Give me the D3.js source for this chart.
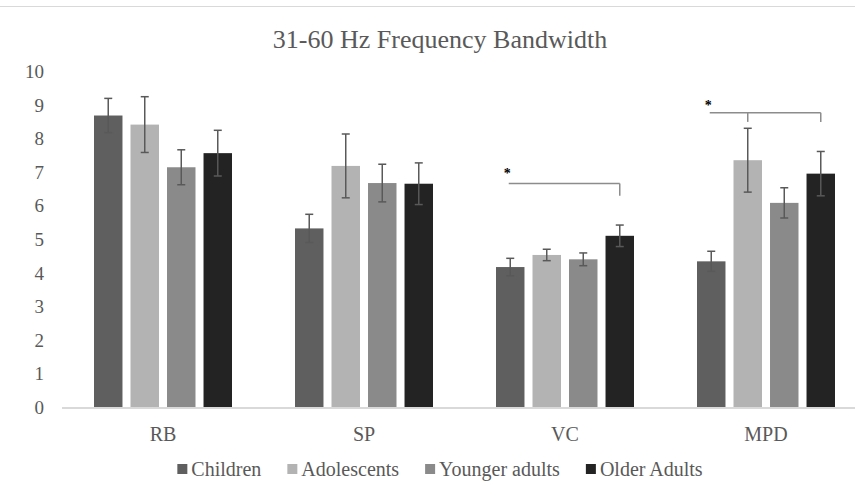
<!DOCTYPE html>
<meta charset="utf-8">
<style>
body { margin: 0; background: #fff; }
svg text { fill: #595959; }
</style>
<svg width="855" height="485"></svg>
<script src="https://cdn.jsdelivr.net/npm/d3@7"></script>
<script>

var categories = ["RB", "SP", "VC", "MPD"];
var series = ["Children", "Adolescents", "Younger adults", "Older Adults"];
var children = [8.69, 5.33, 4.18, 4.35];
var adolescents = [8.42, 7.19, 4.54, 7.36];
var youngerAdults = [7.15, 6.68, 4.41, 6.09];
var olderAdults = [7.57, 6.66, 5.11, 6.96];
var childrenErr = [0.51, 0.42, 0.26, 0.30];
var adolescentsErr = [0.83, 0.95, 0.17, 0.95];
var youngerAdultsErr = [0.52, 0.56, 0.19, 0.45];
var olderAdultsErr = [0.68, 0.62, 0.32, 0.66];
var yTicks = [0, 1, 2, 3, 4, 5, 6, 7, 8, 9, 10];
// significance brackets: line level, drop end, star level
var brackets = [
  {category: "VC", from: "Children", drops: ["Older Adults"], level: 6.67, dropTo: 6.30, star: 7.05},
  {category: "MPD", from: "Children", drops: ["Adolescents", "Older Adults"], level: 8.77, dropTo: 8.50, star: 9.05}
];

var colors = ["#5f5f5f", "#b3b3b3", "#8a8a8a", "#232323"];
var values = [children, adolescents, youngerAdults, olderAdults];
var errors = [childrenErr, adolescentsErr, youngerAdultsErr, olderAdultsErr];
var serif = "'Liberation Serif', 'Times New Roman', serif";

var svg = d3.select("svg");
var chartCenter = 440;

var x0 = d3.scaleBand().domain(categories).range([62.5, 866.5]);
var x1 = d3.scaleBand().domain(series).range([31.5, 169.5]).paddingInner(0.22).paddingOuter(0);
var y = d3.scaleLinear().domain([0, 10]).range([407.5, 71.5]);
var color = d3.scaleOrdinal().domain(series).range(colors);

// top border
svg.append("line")
    .attr("x1", 0).attr("x2", 855).attr("y1", 6.5).attr("y2", 6.5)
    .attr("stroke", "#d9d9d9").attr("stroke-width", 1);

svg.append("text")
    .attr("x", chartCenter).attr("y", 48)
    .attr("text-anchor", "middle")
    .style("font-family", serif)
    .style("font-size", "26px")
    .text("31-60 Hz Frequency Bandwidth");

// y axis labels
var yAxis = svg.append("g")
    .attr("transform", "translate(44,0)")
    .call(d3.axisLeft(y).tickValues(yTicks).tickSize(0).tickPadding(0));
yAxis.attr("font-family", null).attr("font-size", null);
yAxis.select(".domain").remove();
yAxis.selectAll("text")
    .style("font-size", "19px")
    .style("font-family", serif)
    .style("fill", "#595959");

var rows = [];
categories.forEach(function(c, i) {
  series.forEach(function(s, j) {
    rows.push({cat: c, ser: s, v: values[j][i], e: errors[j][i]});
  });
});

svg.append("g").selectAll("rect")
    .data(rows)
  .enter().append("rect")
    .attr("x", function(d) { return x0(d.cat) + x1(d.ser); })
    .attr("y", function(d) { return y(d.v); })
    .attr("width", x1.bandwidth())
    .attr("height", function(d) { return y(0) - y(d.v); })
    .attr("fill", function(d) { return color(d.ser); });

// baseline
svg.append("line")
    .attr("x1", 62).attr("x2", 855).attr("y1", y(0) + 0.5).attr("y2", y(0) + 0.5)
    .attr("stroke", "#d9d9d9").attr("stroke-width", 2);

// error bars
var eg = svg.append("g").attr("stroke", "#595959").attr("stroke-width", 1.5);
rows.forEach(function(d) {
  var cx = x0(d.cat) + x1(d.ser) + x1.bandwidth() / 2;
  eg.append("line").attr("x1", cx).attr("x2", cx)
      .attr("y1", y(d.v + d.e)).attr("y2", y(d.v - d.e));
  eg.append("line").attr("x1", cx - 4).attr("x2", cx + 4)
      .attr("y1", y(d.v + d.e)).attr("y2", y(d.v + d.e));
  eg.append("line").attr("x1", cx - 4).attr("x2", cx + 4)
      .attr("y1", y(d.v - d.e)).attr("y2", y(d.v - d.e));
});

// brackets
var bg = svg.append("g").attr("stroke", "#8c8c8c").attr("stroke-width", 1.5).attr("fill", "none");
brackets.forEach(function(b) {
  var xs = x0(b.category) + x1(b.from) + x1.bandwidth() / 2;
  var xe = d3.max(b.drops, function(s) { return x0(b.category) + x1(s) + x1.bandwidth() / 2; });
  bg.append("line").attr("x1", xs - 1.5).attr("x2", xe).attr("y1", y(b.level)).attr("y2", y(b.level));
  b.drops.forEach(function(s) {
    var xd = x0(b.category) + x1(s) + x1.bandwidth() / 2;
    bg.append("line").attr("x1", xd).attr("x2", xd).attr("y1", y(b.level)).attr("y2", y(b.dropTo));
  });
  svg.append("text")
      .attr("x", xs - 3).attr("y", y(b.star) + 7)
      .attr("text-anchor", "middle")
      .style("font-family", serif)
      .style("font-size", "14px")
      .style("font-weight", "bold")
      .style("fill", "#000")
      .text("*");
});

// category labels
svg.append("g").selectAll("text")
    .data(categories)
  .enter().append("text")
    .attr("x", function(d) { return x0(d) + x0.bandwidth() / 2; })
    .attr("y", 441)
    .attr("text-anchor", "middle")
    .style("font-family", serif)
    .style("font-size", "20px")
    .text(function(d) { return d; });

// legend, centred on the chart area
var legend = svg.append("g").attr("transform", "translate(0,476)");
var items = [], lx = 0;
series.forEach(function(s, i) {
  var item = legend.append("g");
  item.append("rect").attr("x", 0).attr("y", -12).attr("width", 10).attr("height", 10)
      .attr("fill", colors[i]);
  var t = item.append("text").attr("x", 14).attr("y", 0)
      .style("font-family", serif)
      .style("font-size", "20px").text(s);
  items.push({g: item, x: lx});
  lx += 14 + t.node().getComputedTextLength() + 26;
});
var total = lx - 26;
items.forEach(function(it) {
  it.g.attr("transform", "translate(" + (chartCenter - total / 2 + it.x) + ",0)");
});

</script>
